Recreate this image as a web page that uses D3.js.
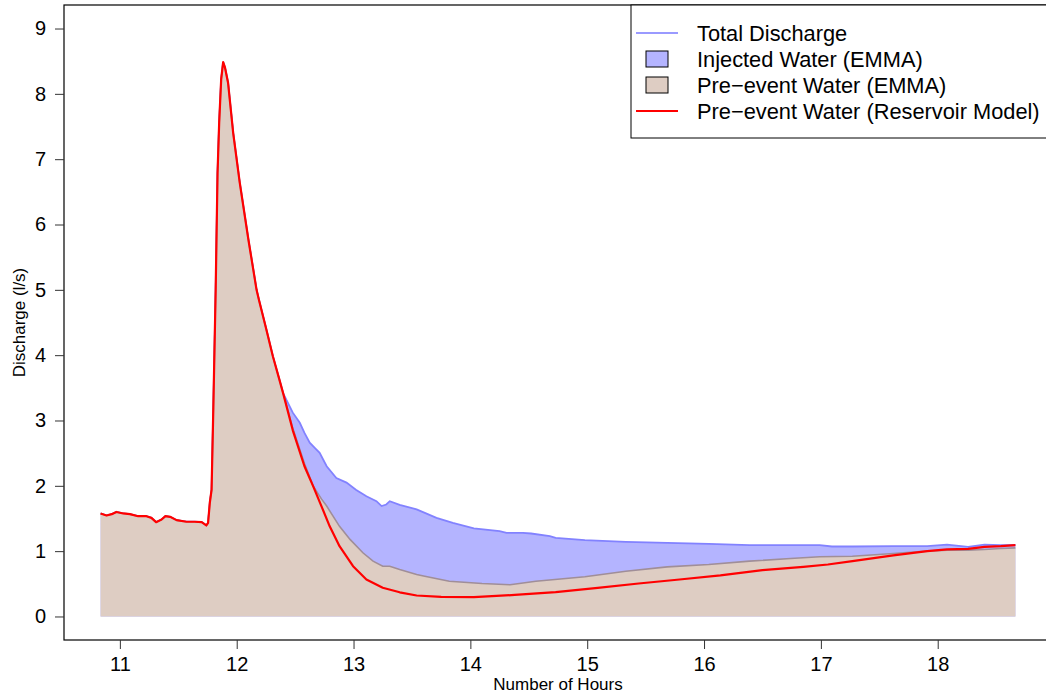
<!DOCTYPE html>
<html>
<head>
<meta charset="utf-8">
<script src="https://cdn.jsdelivr.net/npm/d3@7"></script>
<style>
  body { margin: 0; background: #fff; }
  svg { display: block; font-family: "Liberation Sans", Arial, sans-serif; }
</style>
</head>
<body>
<svg id="chart" width="1046" height="695"></svg>
<script>
// shared part: all three curves coincide before the recession
const earlyHours = [10.835, 10.886, 10.93, 10.97, 11.03, 11.086, 11.157, 11.228, 11.27, 11.31,
  11.357, 11.39, 11.43, 11.485, 11.57, 11.64, 11.70, 11.74, 11.755, 11.77, 11.785, 11.80,
  11.82, 11.836, 11.85, 11.867, 11.884, 11.90, 11.926, 11.97, 12.026, 12.10, 12.17, 12.19,
  12.25, 12.31, 12.36];
const earlyQ = [1.577, 1.546, 1.566, 1.60, 1.577, 1.566, 1.535, 1.535, 1.51, 1.444,
  1.485, 1.535, 1.525, 1.475, 1.45, 1.45, 1.444, 1.393, 1.434, 1.745, 1.94, 3.2,
  5.0, 6.79, 7.56, 8.22, 8.485, 8.40, 8.17, 7.40, 6.64, 5.77, 5.0, 4.85,
  4.42, 3.98, 3.66];

// total discharge
const totalHours = [12.397, 12.48, 12.54, 12.58, 12.625, 12.668, 12.71, 12.77, 12.853, 12.94,
  13.02, 13.11, 13.196, 13.24, 13.28, 13.31, 13.395, 13.54, 13.61, 13.71, 13.85, 14.03,
  14.25, 14.31, 14.45, 14.52, 14.68, 14.73, 14.98, 15.33, 15.685, 16.04, 16.39, 16.74,
  16.99, 17.095, 17.27, 17.62, 17.91, 18.08, 18.26, 18.40, 18.54, 18.665];
const totalQ = [3.42, 3.12, 2.965, 2.81, 2.66, 2.58, 2.505, 2.30, 2.12, 2.05,
  1.94, 1.84, 1.765, 1.69, 1.714, 1.765, 1.71, 1.64, 1.587, 1.51, 1.434, 1.35,
  1.306, 1.28, 1.28, 1.27, 1.23, 1.204, 1.168, 1.143, 1.128, 1.112, 1.092, 1.092,
  1.092, 1.071, 1.071, 1.076, 1.076, 1.10, 1.066, 1.10, 1.092, 1.097];

// pre-event water, EMMA
const emmaHours = [12.40, 12.48, 12.58, 12.654, 12.725, 12.77, 12.88, 12.97, 13.08, 13.167,
  13.25, 13.31, 13.395, 13.54, 13.61, 13.82, 14.10, 14.34, 14.56, 14.98, 15.33, 15.685,
  16.04, 16.39, 16.74, 16.99, 17.27, 17.62, 17.91, 18.08, 18.26, 18.40, 18.54, 18.665];
const emmaQ = [3.40, 2.88, 2.34, 2.0, 1.80, 1.69, 1.38, 1.18, 0.975, 0.847,
  0.77, 0.77, 0.72, 0.643, 0.617, 0.54, 0.505, 0.485, 0.54, 0.607, 0.693, 0.76,
  0.796, 0.847, 0.888, 0.914, 0.923, 0.964, 1.0, 1.015, 1.015, 1.026, 1.04, 1.05];

// pre-event water, reservoir model
const modelHours = [12.40, 12.48, 12.58, 12.654, 12.725, 12.796, 12.88, 12.996, 13.11, 13.25,
  13.395, 13.54, 13.75, 14.03, 14.38, 14.73, 15.09, 15.44, 15.79, 16.14, 16.5, 16.85,
  17.06, 17.27, 17.62, 17.91, 18.08, 18.26, 18.40, 18.54, 18.665];
const modelQ = [3.40, 2.85, 2.30, 1.995, 1.69, 1.38, 1.076, 0.77, 0.566, 0.439,
  0.37, 0.321, 0.30, 0.295, 0.33, 0.372, 0.439, 0.505, 0.566, 0.628, 0.709, 0.76,
  0.796, 0.847, 0.934, 1.0, 1.026, 1.036, 1.066, 1.076, 1.092];

const xTicks = [11, 12, 13, 14, 15, 16, 17, 18];
const yTicks = [0, 1, 2, 3, 4, 5, 6, 7, 8, 9];
const legendLabels = ["Total Discharge", "Injected Water (EMMA)", "Pre\u2212event Water (EMMA)",
  "Pre\u2212event Water (Reservoir Model)"];

function pts(hrs, q) { return hrs.map((h, i) => [h, q[i]]); }
const early = pts(earlyHours, earlyQ);
const total = early.concat(pts(totalHours, totalQ));
const emma = early.concat(pts(emmaHours, emmaQ));
const model = early.concat(pts(modelHours, modelQ));

const svg = d3.select("#chart");
const box = { left: 64, top: 5, right: 1052, bottom: 640 };

// R-like 4% padding around data range
const xr = d3.extent(total, d => d[0]);
const xpad = (xr[1] - xr[0]) * 0.04;
const x = d3.scaleLinear().domain([xr[0] - xpad, xr[1] + xpad]).range([box.left, box.right]);
const y = d3.scaleLinear().domain([-0.36, 9.36]).range([box.bottom, box.top]);

const area = d3.area().x(d => x(d[0])).y0(y(0)).y1(d => y(d[1]));
const line = d3.line().x(d => x(d[0])).y(d => y(d[1]));

svg.append("path").attr("d", area(total)).attr("fill", "#b4b4ff");
svg.append("path").attr("d", line(total))
  .attr("fill", "none").attr("stroke", "#8282ff").attr("stroke-width", 1.8);
svg.append("path").attr("d", area(emma)).attr("fill", "#decdc3");
svg.append("path").attr("d", line(emma))
  .attr("fill", "none").attr("stroke", "#a08e98").attr("stroke-width", 1.6);
svg.append("path").attr("d", line(model))
  .attr("fill", "none").attr("stroke", "#ff0000").attr("stroke-width", 2.2)
  .attr("stroke-linejoin", "round");

// frame
svg.append("rect").attr("x", box.left).attr("y", box.top)
  .attr("width", box.right - box.left).attr("height", box.bottom - box.top)
  .attr("fill", "none").attr("stroke", "#000").attr("stroke-width", 1.2);

// axes
const xAxis = svg.append("g").attr("transform", `translate(0,${box.bottom})`)
  .call(d3.axisBottom(x).tickValues(xTicks).tickSize(9).tickPadding(8).tickFormat(d3.format("d")));
const yAxis = svg.append("g").attr("transform", `translate(${box.left},0)`)
  .call(d3.axisLeft(y).tickValues(yTicks).tickSize(9).tickPadding(9).tickFormat(d3.format("d")));
[xAxis, yAxis].forEach(g => {
  g.select(".domain").remove();
  g.selectAll("line").attr("stroke", "#333");
  g.selectAll("text").attr("font-size", 20).attr("fill", "#000")
    .attr("font-family", "Liberation Sans, Arial, sans-serif");
});

svg.append("text").attr("x", (box.left + box.right) / 2).attr("y", 690)
  .attr("text-anchor", "middle").attr("font-size", 17).text("Number of Hours");
svg.append("text").attr("transform", `translate(25,${(box.top + box.bottom) / 2}) rotate(-90)`)
  .attr("text-anchor", "middle").attr("font-size", 17).text("Discharge (l/s)");

// legend
const lg = svg.append("g");
lg.append("rect").attr("x", 631).attr("y", box.top).attr("width", box.right - 631)
  .attr("height", 133).attr("fill", "#fff").attr("stroke", "#000").attr("stroke-width", 1);
const rowY = i => 33 + i * 26;
const keys = [
  { type: "line", color: "#9a9aff" },
  { type: "box", color: "#b4b4ff" },
  { type: "box", color: "#decdc3" },
  { type: "line", color: "#ff0000" }
];
keys.forEach((k, i) => {
  if (k.type === "line") {
    lg.append("line").attr("x1", 636).attr("x2", 678).attr("y1", rowY(i)).attr("y2", rowY(i))
      .attr("stroke", k.color).attr("stroke-width", 2);
  } else {
    lg.append("rect").attr("x", 646).attr("y", rowY(i) - 8).attr("width", 22).attr("height", 16)
      .attr("fill", k.color).attr("stroke", "#000").attr("stroke-width", 1);
  }
  lg.append("text").attr("x", 697).attr("y", rowY(i)).attr("dy", "0.35em")
    .attr("font-size", 21.8).text(legendLabels[i]);
});
</script>
</body>
</html>
